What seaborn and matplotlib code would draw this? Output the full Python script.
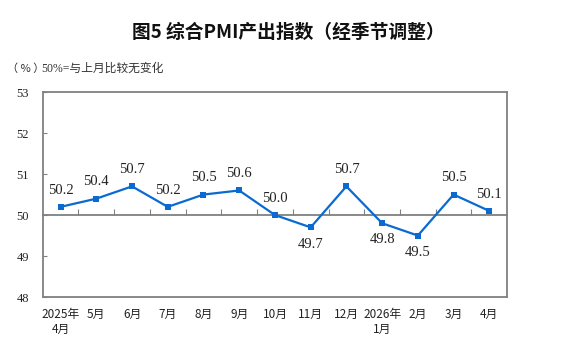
import seaborn as sns
import matplotlib.pyplot as plt
import pandas as pd

# monthly composite PMI output index (seasonally adjusted)
months = ['2025年\n4月', '5月', '6月', '7月', '8月', '9月', '10月', '11月',
          '12月', '2026年\n1月', '2月', '3月', '4月']
pmi = [50.2, 50.4, 50.7, 50.2, 50.5, 50.6, 50.0, 49.7, 50.7, 49.8, 49.5, 50.5, 50.1]
y_ticks = [48, 49, 50, 51, 52, 53]

LINE_BLUE = '#0A6AD0'
GREY = '#808080'
SERIF = ['Liberation Serif', 'Noto Sans CJK SC']

sns.set_style('white')
plt.rcParams['font.family'] = ['Noto Sans CJK SC', 'DejaVu Sans']

df = pd.DataFrame({'pos': range(len(months)), 'pmi': pmi})

fig = plt.figure(figsize=(5.77, 3.57), dpi=100)
ax = fig.add_axes([0.074, 0.168, 0.805, 0.574])

sns.lineplot(data=df, x='pos', y='pmi', ax=ax, color=LINE_BLUE, linewidth=1.6,
             marker='s', markersize=4.8, markeredgewidth=0, markerfacecolor=LINE_BLUE)

# value labels: above the point, below when under 50
for x, v in zip(df['pos'], df['pmi']):
    dy = -12 if v < 50 else 12
    ax.annotate(f'{v:.1f}', (x, v), xytext=(0, dy), textcoords='offset points',
                ha='center', va='center', fontsize=10.5, color='#222222', family=SERIF)

ax.set_xlim(-0.5, len(months) - 0.5)
ax.set_ylim(48, 53)
ax.set_xlabel('')
ax.set_ylabel('')

for s in ax.spines.values():
    s.set_color(GREY)
    s.set_linewidth(1.3)

ax.set_yticks(y_ticks)
ax.set_yticklabels([str(t) for t in y_ticks], family=SERIF, fontsize=9, color='#222222')
ax.tick_params(axis='y', direction='in', length=3, width=0.8, color=GREY, pad=10, left=True)

ax.set_xticks(list(df['pos']))
ax.set_xticklabels(months, fontsize=8.5, fontweight='medium', color='#222222', linespacing=1.2)
ax.tick_params(axis='x', length=0, pad=8, bottom=False)

# the 50 line carries the month separators
sec = ax.secondary_xaxis((50 - 48) / (53 - 48))
sec.spines['bottom'].set_color(GREY)
sec.spines['bottom'].set_linewidth(1.3)
sec.set_xticks([p + 0.5 for p in df['pos'][:-1]])
sec.set_xticklabels([])
sec.tick_params(axis='x', direction='in', length=4, width=0.8, color=GREY)

fig.text(0.5, 0.91, '图5 综合PMI产出指数（经季节调整）', ha='center', va='center',
         fontsize=13.5, fontweight='bold', color='#111111')
fig.text(0.012, 0.807, '（ % ）', ha='left', va='center', fontsize=8, color='#333333')
fig.text(0.071, 0.807, '50%=与上月比较无变化', ha='left', va='center',
         fontsize=8.5, color='#333333', family=SERIF)

fig.savefig('out.png', dpi=100)
